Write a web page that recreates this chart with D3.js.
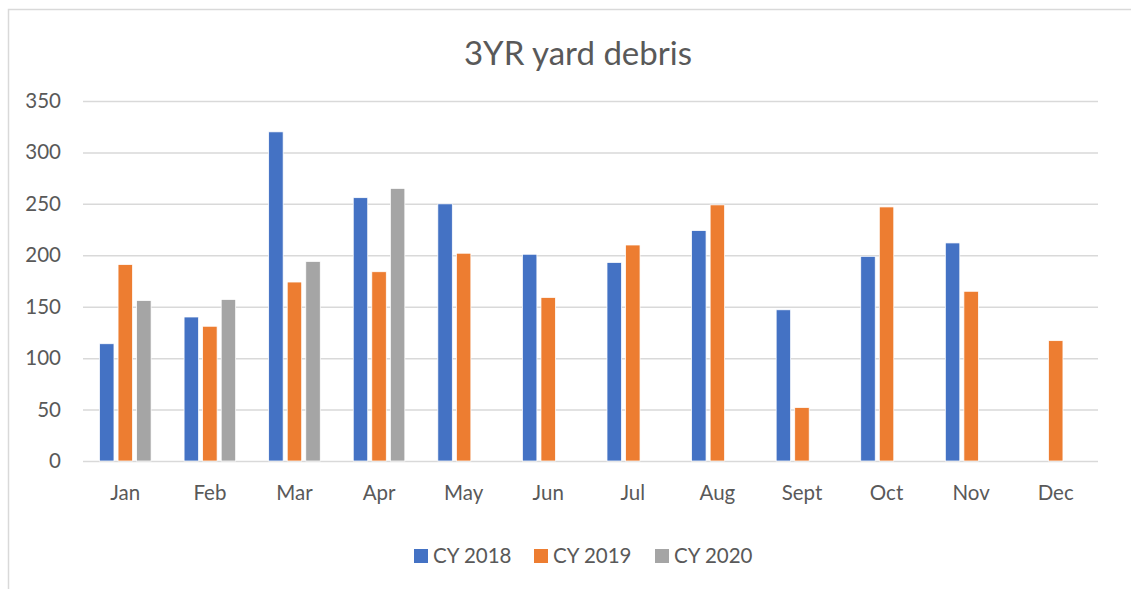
<!DOCTYPE html>
<html>
<head>
<meta charset="utf-8">
<script src="https://cdn.jsdelivr.net/npm/d3@7"></script>
<style>
  body { margin: 0; background: #fff; }
  text { font-family: Lato, "Open Sans", sans-serif; fill: #595959; }
</style>
</head>
<body>
<div id="chart"></div>
<script>
// datos
const months = ["Jan", "Feb", "Mar", "Apr", "May", "Jun", "Jul", "Aug", "Sept", "Oct", "Nov", "Dec"];
const seriesNames = ["CY 2018", "CY 2019", "CY 2020"];
const cy2018 = [114, 140, 320, 256, 250, 201, 193, 224, 147, 199, 212, null];
const cy2019 = [191, 131, 174, 184, 202, 159, 210, 249, 52, 247, 165, 117];
const cy2020 = [156, 157, 194, 265, null, null, null, null, null, null, null, null];
const yTicks = [0, 50, 100, 150, 200, 250, 300, 350];
const colors = ["#4472C4", "#ED7D31", "#A5A5A5"];

const allSeries = [cy2018, cy2019, cy2020];

const W = 1131, H = 589;
const margin = { top: 101, right: 33, bottom: 128, left: 83 };
const width = W - margin.left - margin.right;
const height = H - margin.top - margin.bottom;

const root = d3.select("#chart")
    .append("svg")
    .attr("width", W)
    .attr("height", H);

root.append("rect")
    .attr("width", W).attr("height", H)
    .attr("fill", "#fff");

// borde del area del grafico
root.append("rect")
    .attr("x", 8.5).attr("y", 9.5)
    .attr("width", W + 20).attr("height", H + 20)
    .attr("fill", "none")
    .attr("stroke", "#d9d9d9")
    .attr("stroke-width", 1.5);

// titulo
root.append("text")
    .attr("x", 578)
    .attr("y", 65)
    .attr("text-anchor", "middle")
    .style("font-size", "33px")
    .text("3YR yard debris");

const svg = root.append("g")
    .attr("transform", `translate(${margin.left}, ${margin.top})`);

// escalas
const x = d3.scaleBand()
    .domain(months)
    .range([0, width])
    .paddingInner(0.39)
    .paddingOuter(0.195);

const xs = d3.scaleBand()
    .domain(d3.range(seriesNames.length))
    .range([0, x.bandwidth()])
    .paddingInner(0.22);

const y = d3.scaleLinear()
    .domain([0, 350])
    .range([height, 0]);

// lineas de cuadricula
svg.append("g")
    .call(d3.axisLeft(y).tickValues(yTicks).tickSize(-width).tickFormat(""))
    .call(g => g.select(".domain").remove())
    .call(g => g.selectAll("line").attr("stroke", "#d9d9d9").attr("stroke-width", 1.5));

// etiquetas eje y
svg.append("g")
    .call(d3.axisLeft(y).tickValues(yTicks).tickSize(0).tickPadding(22))
    .call(g => g.select(".domain").remove())
    .selectAll("text")
    .style("font-size", "20.5px")
    .style("font-family", "Lato, sans-serif")
    .attr("fill", "#595959");

// etiquetas eje x
svg.append("g")
    .attr("transform", `translate(0, ${height})`)
    .call(d3.axisBottom(x).tickSize(0).tickPadding(24))
    .call(g => g.select(".domain").remove())
    .selectAll("text")
    .style("font-size", "20.5px")
    .style("font-family", "Lato, sans-serif")
    .attr("fill", "#595959");

// barras
allSeries.forEach((vals, si) => {
    svg.append("g")
        .selectAll("rect")
        .data(months.map((m, i) => ({ month: m, value: vals[i] })).filter(d => d.value != null))
        .enter().append("rect")
        .attr("x", d => x(d.month) + xs(si))
        .attr("y", d => y(d.value))
        .attr("width", xs.bandwidth())
        .attr("height", d => height - y(d.value))
        .attr("fill", colors[si])
        .attr("stroke", "#fff")
        .attr("stroke-width", 0.75);
});

// leyenda
const legendX = [414, 534, 655];
const legend = root.append("g");
seriesNames.forEach((name, i) => {
    legend.append("rect")
        .attr("x", legendX[i]).attr("y", 549)
        .attr("width", 14).attr("height", 14)
        .attr("fill", colors[i]);
    legend.append("text")
        .attr("x", legendX[i] + 19)
        .attr("y", 563)
        .style("font-size", "20.5px")
        .text(name);
});
</script>
</body>
</html>
